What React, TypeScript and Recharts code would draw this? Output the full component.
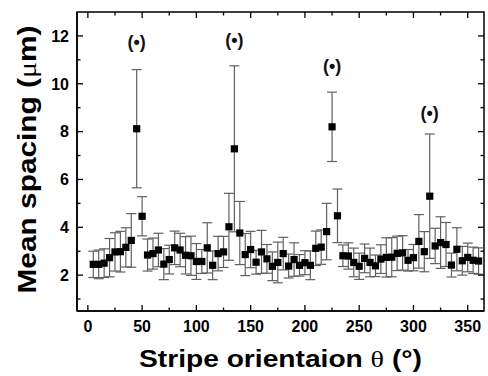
import React from "react";
import { ComposedChart, Scatter, XAxis, YAxis, ZAxis, ErrorBar, ReferenceArea } from "recharts";

// stripe orientation (deg)
const theta = [
  5, 10, 15, 20, 25, 30, 35, 40, 45, 50, 55, 60, 65, 70, 75, 80, 85, 90,
  95, 100, 105, 110, 115, 120, 125, 130, 135, 140, 145, 150, 155, 160, 165, 170, 175, 180,
  185, 190, 195, 200, 205, 210, 215, 220, 225, 230, 235, 240, 245, 250, 255, 260, 265, 270,
  275, 280, 285, 290, 295, 300, 305, 310, 315, 320, 325, 330, 335, 340, 345, 350, 355, 360,
];

// mean spacing (um)
const spacing = [
  2.45, 2.45, 2.5, 2.73, 2.97, 2.98, 3.16, 3.45, 8.12, 4.46, 2.84, 2.9, 3.05, 2.46, 2.65, 3.14, 3.05, 2.83,
  2.81, 2.57, 2.57, 3.14, 2.41, 2.9, 2.97, 4.02, 7.28, 3.76, 2.86, 3.07, 2.54, 2.97, 2.68, 2.37, 2.53, 2.9,
  2.38, 2.65, 2.41, 2.52, 2.41, 3.12, 3.17, 3.82, 8.2, 4.48, 2.81, 2.8, 2.53, 2.37, 2.7, 2.53, 2.39, 2.67,
  2.74, 2.75, 2.91, 2.93, 2.62, 2.73, 3.41, 2.98, 5.3, 3.22, 3.36, 3.28, 2.42, 3.08, 2.6, 2.74, 2.62, 2.59,
];

// error bar half-width
const spread = [
  0.55, 0.6, 0.6, 0.8, 0.8, 0.85, 0.82, 1.12, 2.47, 0.82, 0.67, 0.65, 0.7, 0.65, 0.6, 0.7, 0.7, 0.78,
  0.82, 0.75, 0.5, 1.05, 0.6, 0.72, 0.65, 1.4, 3.47, 1.32, 0.88, 0.76, 0.5, 0.9, 0.6, 0.6, 0.85, 0.68,
  0.5, 0.7, 0.45, 0.5, 0.6, 0.72, 0.72, 1.18, 1.45, 1.12, 0.45, 0.55, 0.6, 0.55, 0.6, 0.6, 0.45, 0.6,
  0.82, 0.82, 0.72, 0.72, 0.45, 0.55, 1.12, 0.84, 2.6, 0.74, 1.08, 0.92, 0.5, 0.9, 0.6, 0.6, 0.55, 0.55,
];

// "(•)" markers over the peaks
const peakTheta = [45, 135, 225, 315];
const peakMarkY = [11.73, 11.83, 10.75, 8.78];

const xTicks = [0, 25, 50, 75, 100, 125, 150, 175, 200, 225, 250, 275, 300, 325, 350];
const xMajor = [0, 50, 100, 150, 200, 250, 300, 350];
const yTicks = [1, 2, 3, 4, 5, 6, 7, 8, 9, 10, 11, 12];
const yMajor = [2, 4, 6, 8, 10, 12];

const data = theta.map((t, i) => ({ theta: t, spacing: spacing[i], err: spread[i] }));
const marks = peakTheta.map((t, i) => ({ theta: t, y: peakMarkY[i] }));

const W = 488;
const H = 376;
const MARGIN = { top: 12, right: 4, bottom: 0, left: 0 };
const PLOT_TOP = MARGIN.top;
const PLOT_RIGHT = W - MARGIN.right;

const FONT = "'Liberation Sans', Arial, Helvetica, sans-serif";
const SERIF = "'Liberation Serif', 'DejaVu Serif', serif";

// bottom tick + mirrored tick on the top frame edge
function XTick(props: any) {
  const { x, y, payload } = props;
  const major = xMajor.includes(payload.value);
  const len = major ? 6 : 3.5;
  return (
    <g>
      <line x1={x} y1={y} x2={x} y2={y - len} stroke="#000" strokeWidth={1.3} />
      <line x1={x} y1={PLOT_TOP} x2={x} y2={PLOT_TOP + len} stroke="#000" strokeWidth={1.3} />
      {major && (
        <text x={x} y={y + 21} textAnchor="middle" fontFamily={FONT} fontWeight="bold" fontSize={16} fill="#000">
          {payload.value}
        </text>
      )}
    </g>
  );
}

// left tick + mirrored tick on the right frame edge
function YTick(props: any) {
  const { x, y, payload } = props;
  const major = yMajor.includes(payload.value);
  const len = major ? 6 : 3.5;
  return (
    <g>
      <line x1={x} y1={y} x2={x + len} y2={y} stroke="#000" strokeWidth={1.3} />
      <line x1={PLOT_RIGHT} y1={y} x2={PLOT_RIGHT - len} y2={y} stroke="#000" strokeWidth={1.3} />
      {major && (
        <text x={x - 8} y={y} dy={5.8} textAnchor="end" fontFamily={FONT} fontWeight="bold" fontSize={16} fill="#000">
          {payload.value}
        </text>
      )}
    </g>
  );
}

function PeakMark(props: any) {
  const { cx, cy } = props;
  return (
    <text x={cx} y={cy} dy={6} textAnchor="middle" fontFamily={FONT} fontWeight="bold" fontSize={18} fill="#111">
      (•)
    </text>
  );
}

export default function App() {
  return (
    <div style={{ width: W, height: H, background: "#fff" }}>
      <style>{"body{margin:0}"}</style>
      <ComposedChart width={W} height={H} margin={MARGIN}>
        <XAxis
          xAxisId="b"
          type="number"
          dataKey="theta"
          domain={[-10, 365]}
          allowDataOverflow
          ticks={xTicks}
          interval={0}
          height={65}
          tickSize={0}
          tickMargin={0}
          tickLine={false}
          axisLine={{ stroke: "#000", strokeWidth: 1.5 }}
          tick={(p: any) => <XTick {...p} />}
          label={{
            content: (p: any) => {
              const vb = p.viewBox;
              return (
                <text
                  x={vb.x + vb.width / 2}
                  y={vb.y + 56}
                  textAnchor="middle"
                  fontFamily={FONT}
                  fontWeight="bold"
                  fontSize={23}
                  fill="#000"
                  textLength={283}
                  lengthAdjust="spacingAndGlyphs"
                >
                  Stripe orientaion <tspan fontFamily={SERIF} fontWeight="normal">θ</tspan> (°)
                </text>
              );
            },
          }}
        />
        <YAxis
          yAxisId="l"
          type="number"
          domain={[0.5, 13]}
          allowDataOverflow
          ticks={yTicks}
          interval={0}
          width={77}
          tickSize={0}
          tickMargin={0}
          tickLine={false}
          axisLine={{ stroke: "#000", strokeWidth: 1.5 }}
          tick={(p: any) => <YTick {...p} />}
          label={{
            content: (p: any) => {
              const vb = p.viewBox;
              const cx = vb.x + 27;
              const cy = vb.y + vb.height / 2 - 2;
              return (
                <text
                  x={cx}
                  y={cy}
                  transform={`rotate(-90 ${cx} ${cy})`}
                  dy={9}
                  textAnchor="middle"
                  fontFamily={FONT}
                  fontWeight="bold"
                  fontSize={25}
                  fill="#000"
                  textLength={268}
                  lengthAdjust="spacingAndGlyphs"
                >
                  Mean spacing (<tspan fontFamily={SERIF} fontWeight="normal">μ</tspan>m)
                </text>
              );
            },
          }}
        />
        <ZAxis range={[52, 52]} />
        <ReferenceArea
          xAxisId="b"
          yAxisId="l"
          x1={-10}
          x2={365}
          y1={0.5}
          y2={13}
          fill="none"
          fillOpacity={0}
          stroke="#000"
          strokeWidth={1.5}
        />
        <Scatter
          xAxisId="b"
          yAxisId="l"
          data={data}
          dataKey="spacing"
          fill="#000"
          shape="square"
          isAnimationActive={false}
        >
          <ErrorBar dataKey="err" direction="y" width={5} stroke="#606060" strokeWidth={1.2} isAnimationActive={false} />
        </Scatter>
        <Scatter
          xAxisId="b"
          yAxisId="l"
          data={marks}
          dataKey="y"
          shape={(p: any) => <PeakMark {...p} />}
          isAnimationActive={false}
        />
      </ComposedChart>
    </div>
  );
}
